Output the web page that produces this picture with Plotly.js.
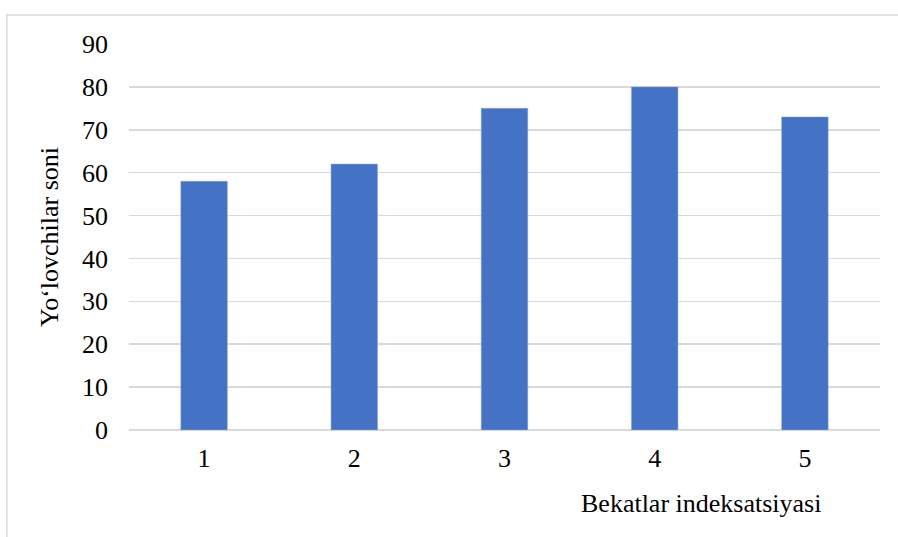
<!DOCTYPE html>
<html>
<head>
<meta charset="utf-8">
<script src="https://cdn.plot.ly/plotly-3.0.1.min.js"></script>
<style>html,body{margin:0;padding:0;background:#fff;}#chart{width:898px;height:537px;}</style>
</head>
<body>
<div id="chart"></div>
<script>
const categories = ["1", "2", "3", "4", "5"];
const values = [58, 62, 75, 80, 73];
const yTickVals = [0, 10, 20, 30, 40, 50, 60, 70, 80, 90];
const yTitle = "Yo‘lovchilar soni";
const xTitle = "Bekatlar indeksatsiyasi";

const FONT = "Liberation Serif, DejaVu Serif";
const FS = 26;

const trace = {
  type: "bar",
  x: categories,
  y: values,
  marker: {color: "#4472C4", line: {color: "#8faadc", width: 0.5}},
  hoverinfo: "x+y"
};

const layout = {
  width: 898, height: 537,
  margin: {l: 129, r: 18, t: 44, b: 107},
  paper_bgcolor: "#fff", plot_bgcolor: "#fff",
  font: {family: FONT, size: FS, color: "#000"},
  bargap: 0.69,
  showlegend: false,
  xaxis: {
    type: "category",
    showgrid: false, zeroline: false, showline: false,
    ticks: "", tickfont: {family: FONT, size: FS, color: "#000"},
    ticklabelstandoff: 10
  },
  yaxis: {
    range: [0, 90], tickvals: yTickVals, ticktext: yTickVals.map(String),
    showgrid: true, gridcolor: "#d9d9d9", gridwidth: 1.5,
    zeroline: true, zerolinecolor: "#d9d9d9", zerolinewidth: 1.5,
    showline: false, ticks: "",
    tickfont: {family: FONT, size: FS, color: "#000"},
    ticklabelstandoff: 20,
    title: {text: yTitle, font: {family: FONT, size: FS, color: "#000"}, standoff: 15}
  },
  annotations: [{
    xref: "paper", yref: "paper",
    x: (822 - 129) / 750, y: (430 - 503) / 386,
    xanchor: "right", yanchor: "middle",
    text: xTitle, showarrow: false,
    font: {family: FONT, size: FS, color: "#000"}
  }],
  shapes: [{
    type: "rect", xref: "paper", yref: "paper",
    x0: (7 - 129) / 750, x1: 1.2,
    y0: -0.4, y1: (430 - 15) / 386,
    line: {color: "#d9d9d9", width: 1.5}, layer: "below"
  }]
};

Plotly.newPlot("chart", [trace], layout, {displayModeBar: false, staticPlot: true});
</script>
</body>
</html>
